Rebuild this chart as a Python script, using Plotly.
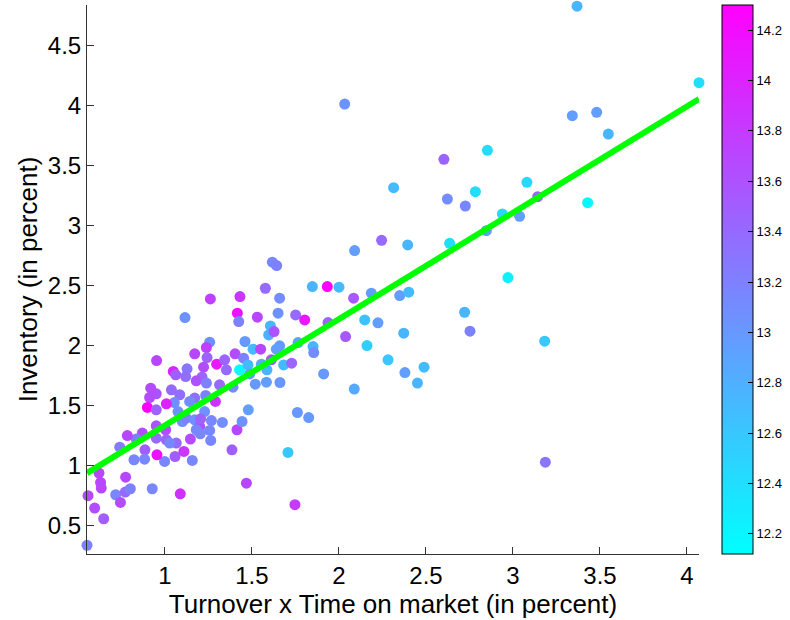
import plotly.graph_objects as go

# ---- data ----
turnover_time = [
    2.033, 2.314, 2.245, 2.09, 1.617, 1.642, 3.368, 4.069, 3.341, 3.481, 3.548, 2.603,
    2.853, 2.623, 2.726, 2.784, 3.08, 3.142, 3.429, 2.939, 3.038, 2.847, 2.395, 2.636,
    2.971, 2.349, 2.401, 2.722, 2.753, 2.372, 3.182, 2.379, 2.489, 2.451, 3.186,
    1.577, 1.261, 1.431, 1.659, 1.847, 1.933, 2.0, 2.084, 2.186, 1.115, 1.416, 1.424,
    1.531, 1.65, 1.751, 1.803, 1.606, 1.596, 1.627, 1.937, 2.148, 2.224, 2.038, 2.161,
    2.282, 1.257, 1.238, 1.242, 1.171, 0.952, 1.048, 1.062, 1.127, 1.119, 1.222, 1.213,
    1.18, 1.297, 1.343, 1.353, 1.403, 1.452, 1.46, 1.506, 1.55, 1.429, 1.477, 1.487,
    1.519, 1.554, 1.586, 1.583, 1.611, 1.659, 1.64, 1.682, 1.728, 1.661, 1.765, 1.851,
    1.855, 1.912, 2.088, 1.761, 1.826, 1.707, 1.747, 1.468, 1.414, 1.385, 1.443, 1.479,
    1.391, 1.314, 1.238, 1.234, 1.29, 1.171, 1.142, 1.085, 1.037, 1.054, 1.075, 1.008,
    0.95, 0.912, 0.918, 0.899, 0.95, 0.95, 1.004, 1.008, 0.95, 1.065, 1.027, 0.998,
    1.058, 1.109, 1.157, 1.146, 1.1, 1.123, 1.171, 1.2, 1.18, 1.203, 1.257, 1.263,
    1.267, 1.228, 1.205, 1.33, 0.954, 0.885, 0.883, 0.822, 0.87, 0.835, 0.784, 0.74,
    0.621, 0.63, 0.634, 0.558, 0.596, 0.648, 0.552, 0.655, 0.717, 0.774, 0.772, 0.801,
    0.744, 0.927, 1.088,
]
inventory = [
    4.014, 3.317, 2.878, 2.792, 2.695, 2.667, 4.83, 4.192, 3.917, 3.945, 3.764, 3.553,
    3.628, 3.222, 3.164, 3.283, 3.361, 3.242, 3.192, 3.098, 3.078, 2.958, 2.839, 2.853,
    2.567, 2.417, 2.445, 2.278, 2.12, 2.103, 2.037, 1.775, 1.82, 1.687, 1.028,
    2.478, 2.389, 2.409, 2.395, 2.492, 2.492, 2.487, 2.395, 2.437, 2.234, 2.27, 2.2,
    2.237, 2.27, 2.256, 2.214, 2.164, 2.089, 2.117, 2.192, 2.214, 2.19, 2.075, 2.0,
    1.881, 2.028, 1.984, 1.9, 1.931, 1.875, 1.784, 1.756, 1.806, 1.742, 1.82, 1.737,
    1.706, 1.845, 1.881, 1.798, 1.931, 1.895, 2.034, 1.97, 1.97, 1.798, 1.839, 1.764,
    1.678, 1.845, 1.798, 1.695, 1.881, 1.998, 1.97, 1.839, 1.853, 1.692, 2.025, 1.992,
    1.942, 1.764, 1.637, 1.442, 1.4, 1.109, 0.673, 0.853, 1.298, 1.131, 1.367, 1.464,
    1.653, 1.673, 1.687, 1.584, 1.534, 1.562, 1.534, 1.59, 1.631, 1.525, 1.45, 1.514,
    1.598, 1.567, 1.645, 1.484, 1.464, 1.331, 1.298, 1.214, 1.228, 1.187, 1.187, 1.034,
    1.075, 1.117, 1.042, 1.22, 1.367, 1.395, 1.381, 1.325, 1.298, 1.264, 1.292, 1.209,
    1.375, 1.45, 1.389, 1.359, 1.089, 1.131, 1.053, 1.048, 1.27, 1.22, 1.25, 1.153,
    0.937, 0.859, 0.812, 0.748, 0.645, 0.556, 0.334, 0.256, 0.756, 0.903, 0.778, 0.806,
    0.692, 0.806, 0.764,
]
color_value = [
    13.05, 12.7, 13.4, 12.95, 13.15, 13.2, 12.75, 12.4, 12.95, 12.95, 12.75, 13.45,
    12.4, 13.1, 13.15, 12.4, 12.45, 13.45, 12.2, 12.45, 12.95, 12.95, 12.75, 12.4,
    12.25, 12.95, 12.7, 12.75, 13.2, 12.75, 12.6, 12.95, 12.7, 12.75, 13.3,
    13.4, 13.75, 13.85, 13.1, 12.75, 14.3, 12.7, 13.55, 12.95, 13.05, 14.15, 13.2,
    13.7, 13.05, 13.4, 14.1, 12.75, 12.8, 13.6, 13.45, 12.65, 12.95, 13.55, 12.55,
    12.6, 13.05, 13.75, 13.45, 13.7, 13.7, 14.0, 13.5, 13.3, 13.35, 13.65, 13.45,
    13.6, 14.1, 13.45, 13.4, 13.65, 13.2, 13.0, 12.7, 13.7, 12.15, 12.7, 12.95,
    13.0, 12.85, 12.75, 12.95, 13.6, 13.0, 12.95, 12.7, 13.45, 13.0, 12.95, 12.75,
    13.1, 13.0, 12.85, 13.0, 13.0, 12.6, 13.8, 13.7, 13.7, 13.5, 13.05, 12.95,
    13.1, 13.4, 13.2, 13.2, 13.85, 13.35, 13.1, 13.35, 13.4, 13.1, 13.05, 14.0,
    13.6, 13.65, 13.65, 14.3, 13.45, 13.6, 13.65, 13.45, 13.4, 13.4, 13.15, 13.15,
    13.5, 13.85, 13.15, 13.65, 13.1, 13.2, 13.05, 13.6, 13.15, 13.15, 13.15, 13.15,
    13.15, 13.05, 13.45, 13.1, 14.15, 13.5, 13.15, 13.15, 13.65, 13.2, 13.7, 13.25,
    13.7, 13.7, 13.7, 13.7, 13.65, 13.5, 13.2, 13.7, 13.15, 13.7, 13.4, 13.2,
    13.65, 13.15, 13.9,
]

# regression line parameters
fit_intercept = 0.447
fit_slope = 0.887

x_range = [0.552, 4.069]
y_range = [0.262, 4.84]
c_range = [12.12, 14.3]

x_tickvals = [1, 1.5, 2, 2.5, 3, 3.5, 4]
x_ticktext = ["1", "1.5", "2", "2.5", "3", "3.5", "4"]
y_tickvals = [0.5, 1, 1.5, 2, 2.5, 3, 3.5, 4, 4.5]
y_ticktext = ["0.5", "1", "1.5", "2", "2.5", "3", "3.5", "4", "4.5"]
c_tickvals = [12.2, 12.4, 12.6, 12.8, 13.0, 13.2, 13.4, 13.6, 13.8, 14.0, 14.2]
c_ticktext = ["12.2", "12.4", "12.6", "12.8", "13", "13.2", "13.4", "13.6", "13.8", "14", "14.2"]

x_title = "Turnover x Time on market (in percent)"
y_title = "Inventory (in percent)"

main_font = "Liberation Sans, Arial, sans-serif"

fig = go.Figure()
fig.add_trace(go.Scatter(
    x=turnover_time, y=inventory, mode="markers", cliponaxis=False,
    marker=dict(
        size=11, color=color_value, cmin=c_range[0], cmax=c_range[1],
        colorscale=[[0, "#00ffff"], [1, "#ff00ff"]], line=dict(width=0),
        colorbar=dict(
            x=1.0376, xanchor="left", xpad=0, ypad=0, y=1.0, yanchor="top",
            len=1.0, lenmode="fraction", thickness=31, thicknessmode="pixels",
            outlinewidth=1, outlinecolor="black",
            tickvals=c_tickvals, ticktext=c_ticktext, ticks="inside", ticklen=5,
            tickcolor="black", tickfont=dict(family=main_font, size=13, color="black"),
        ),
    ),
    showlegend=False,
))

line_x = x_range
line_y = [fit_intercept + fit_slope * v for v in line_x]
fig.add_trace(go.Scatter(
    x=line_x, y=line_y, mode="lines", line=dict(color="#00ff00", width=6),
    showlegend=False, cliponaxis=True,
))

fig.update_layout(
    width=790, height=620,
    margin=dict(l=87, r=91, t=5, b=66, autoexpand=False),
    paper_bgcolor="white", plot_bgcolor="white",
    font=dict(family=main_font, color="black"),
    xaxis=dict(
        range=x_range, tickvals=x_tickvals, ticktext=x_ticktext, automargin=False,
        showgrid=False, zeroline=False, showline=True, linecolor="#333333", linewidth=1,
        ticks="inside", ticklen=7, tickcolor="#333333",
        tickfont=dict(family=main_font, size=24),
        title=dict(text=x_title, font=dict(family=main_font, size=26), standoff=0),
    ),
    yaxis=dict(
        range=y_range, tickvals=y_tickvals, ticktext=y_ticktext, automargin=False,
        showgrid=False, zeroline=False, showline=True, linecolor="#333333", linewidth=1,
        ticks="inside", ticklen=7, tickcolor="#333333",
        tickfont=dict(family=main_font, size=24),
        title=dict(text=y_title, font=dict(family=main_font, size=26), standoff=2),
    ),
)

fig.write_html(
    "out.html",
    config={"displayModeBar": False},
    post_script="document.body.style.margin='0';document.body.style.overflow='hidden';",
)
